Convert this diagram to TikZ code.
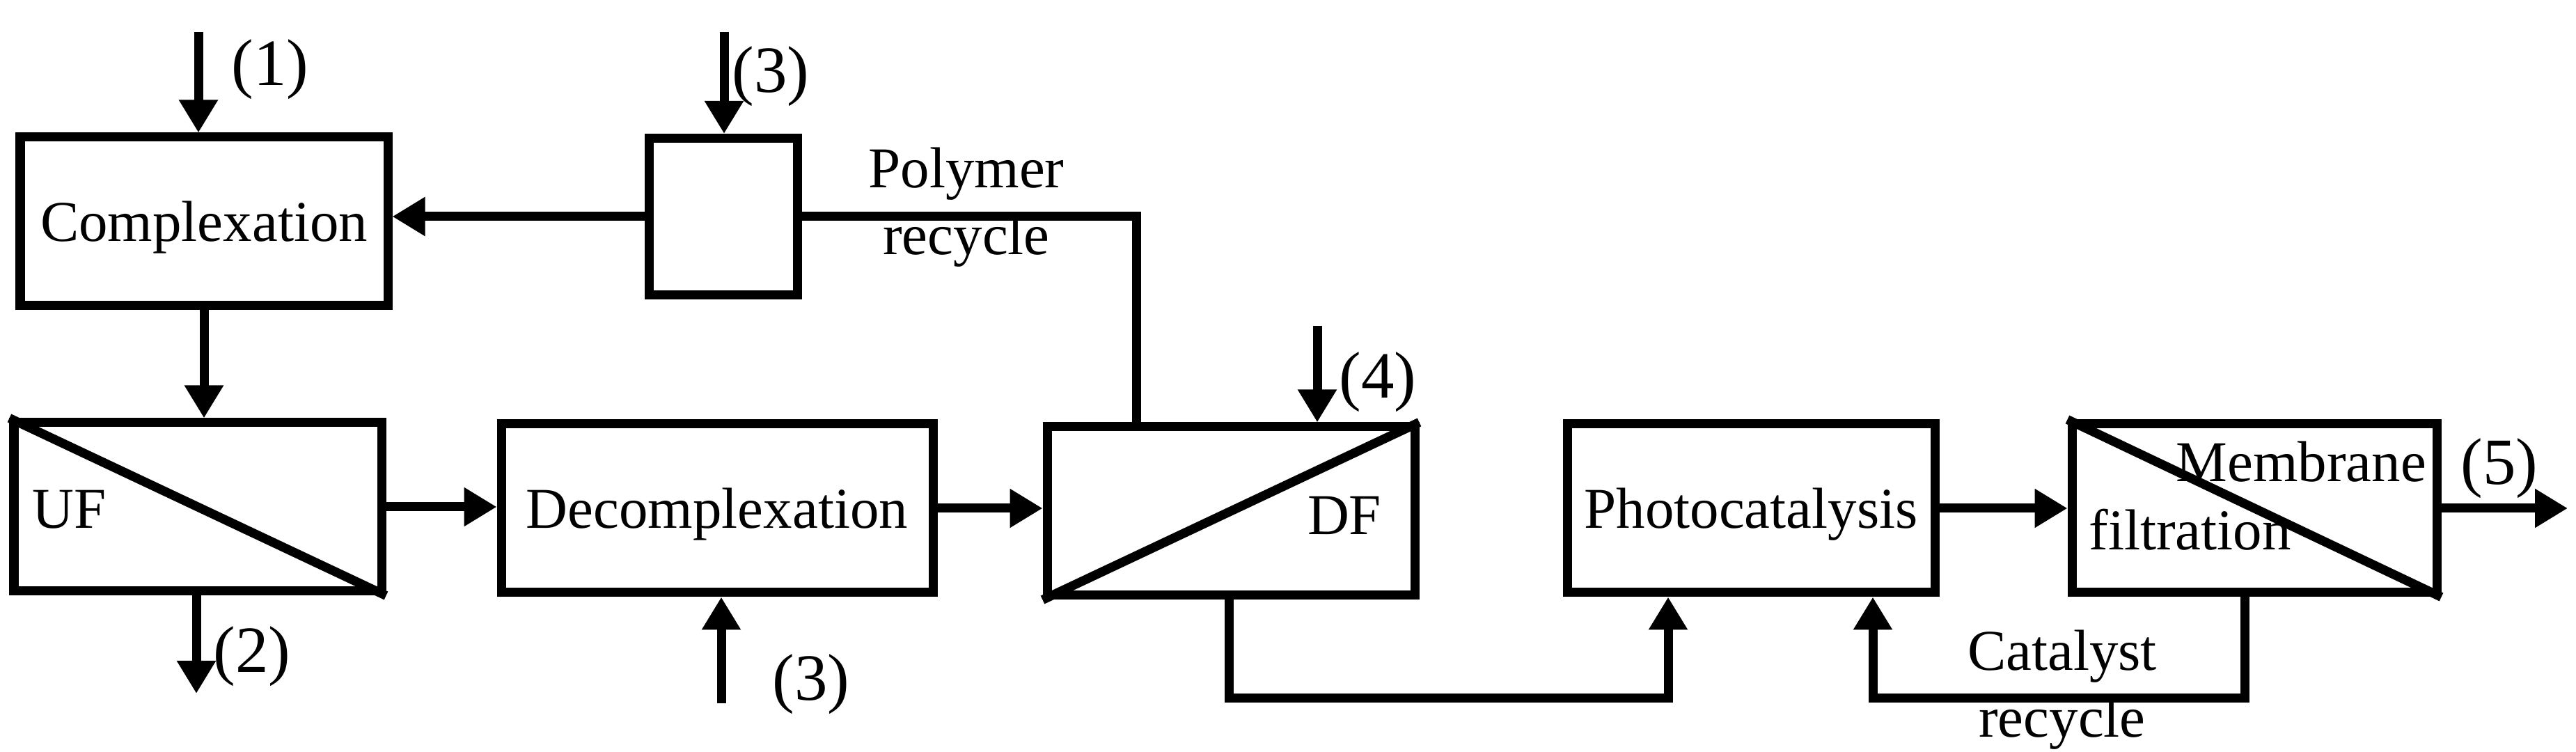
\documentclass[tikz,border=0pt]{standalone}
\usepackage{fontspec}
\setmainfont{Liberation Serif}
\usetikzlibrary{arrows.meta}

\begin{document}
\begin{tikzpicture}[
    line width=3.7pt,
    unit/.style={draw, minimum width=5.28cm, minimum height=2.42cm, inner sep=0pt,
        text depth=0pt, font=\fontsize{23.6}{27.3}\selectfont},
    flow/.style={-{Triangle[length=0.47cm,width=0.53cm]}},
    txt/.style={inner sep=0pt, align=center, font=\fontsize{23.6}{27.3}\selectfont},
    num/.style={inner sep=0pt, font=\fontsize{27}{30}\selectfont}
]
    \useasboundingbox (0,0) rectangle (37,10.8);

    % Process units
    \node[unit] (cpx) at (2.93,7.62) {Complexation\hspace{0.2cm}};
    \node[unit, minimum width=2.13cm, minimum height=2.25cm] (mix) at (10.39,7.69) {};
    \node[unit] (uf) at (2.84,3.52) {};
    \node[unit, minimum width=6.2cm] (dec) at (10.30,3.50) {Decomplexation\hspace{0.3cm}};
    \node[unit] (df) at (17.68,3.46) {};
    \node[unit] (pc) at (25.15,3.50) {Photocatalysis};
    \node[unit, minimum width=5.24cm] (mf) at (32.38,3.50) {};

    % Membranes
    \draw (uf.north west) -- (uf.south east);
    \draw (df.south west) -- (df.north east);
    \draw (mf.north west) -- (mf.south east);
    \node[txt, anchor=west] (ufl) at (0.40,3.485) {UF};
    \node[txt] (dfl) at (19.31,3.395) {DF};
    \node[txt, anchor=base west] (mfa) at (31.19,3.88) {Membrane};
    \node[txt, anchor=base west] (mfb) at (29.94,2.90) {filtration};

    % Feeds and outlets
    \coordinate (f1) at (2.85,10.34);
    \coordinate (f3a) at (10.40,10.34);
    \coordinate (f3b) at (10.36,0.70);
    \coordinate (f4) at (18.92,6.12);
    \coordinate (o2) at (2.82,0.84);
    \coordinate (o5) at (36.88,3.50);

    \draw[flow] (f1) -- (f1 |- cpx.north);
    \draw[flow] (f3a) -- (f3a |- mix.north);
    \draw[flow] (f3b) -- (f3b |- dec.south);
    \draw[flow] (f4) -- (f4 |- df.north);
    \draw[flow] (o2 |- uf.south) -- (o2);
    \draw[flow] (mf.east) -- (o5);

    \node[num] (l1) at (3.88,9.80) {(1)};
    \node[num] (l2) at (3.62,1.37) {(2)};
    \node[num] (l3a) at (11.07,9.70) {(3)};
    \node[num] (l3b) at (11.65,0.97) {(3)};
    \node[num] (l4) at (19.79,5.31) {(4)};
    \node[num] (l5) at (35.90,4.07) {(5)};

    % Main line
    \draw[flow] (cpx.south) -- (cpx.south |- uf.north);
    \draw[flow] (mix.west) -- (mix.west -| cpx.east);
    \draw[flow] (uf.east) -- (uf.east -| dec.west);
    \draw[flow] (dec.east) -- (dec.east -| df.west);
    \draw[flow] (pc.east) -- (pc.east -| mf.west);

    % Polymer recycle
    \coordinate (pr) at (16.32,7.69);
    \draw (pr |- df.north) -- (pr) -- (mix.east);
    \node[txt] (prl) at (13.88,7.82) {Polymer\\recycle};

    % DF permeate to photocatalysis
    \coordinate (d1) at (17.65,0.77);
    \coordinate (d2) at (23.96,0.77);
    \draw[flow] (d1 |- df.south) -- (d1) -- (d2) -- (d2 |- pc.south);

    % Catalyst recycle
    \coordinate (c1) at (32.24,0.77);
    \coordinate (c2) at (26.90,0.77);
    \draw[flow] (c1 |- mf.south) -- (c1) -- (c2) -- (c2 |- pc.south);
    \node[txt] (crl) at (29.62,0.89) {Catalyst\\recycle};
\end{tikzpicture}
\end{document}
